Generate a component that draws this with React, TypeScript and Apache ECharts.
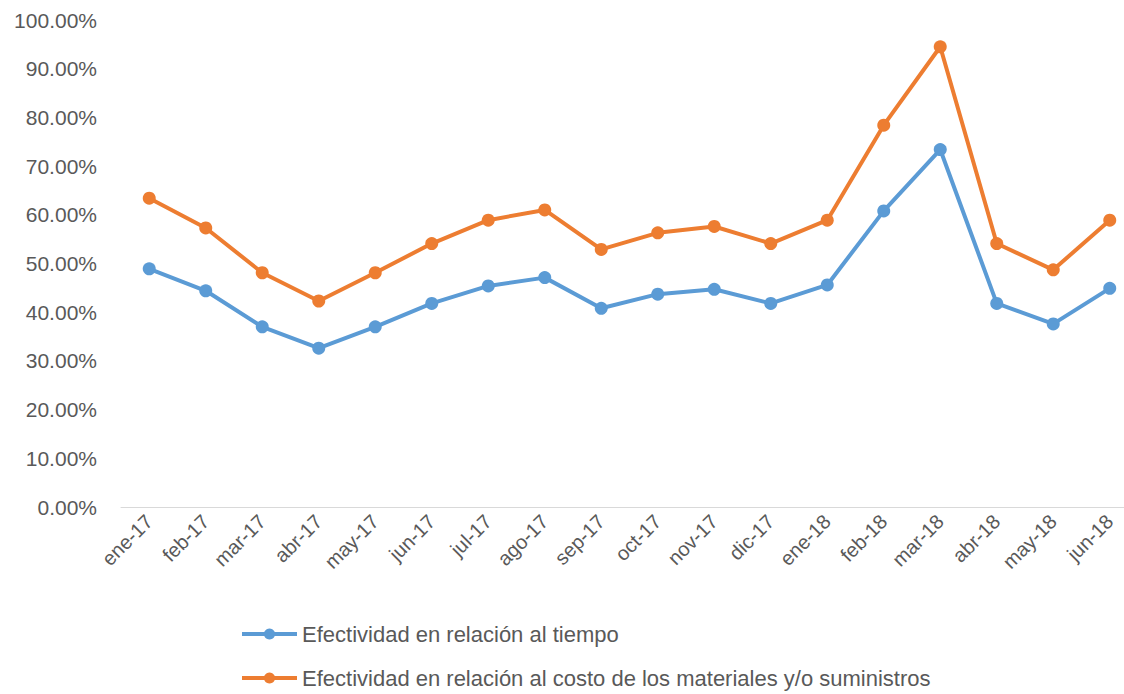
import React, { useEffect, useRef } from "react";
import * as echarts from "echarts";

const categories = ["ene-17","feb-17","mar-17","abr-17","may-17","jun-17","jul-17","ago-17","sep-17","oct-17","nov-17","dic-17","ene-18","feb-18","mar-18","abr-18","may-18","jun-18"];
const tiempo = [48.9,44.4,37.0,32.6,37.0,41.8,45.4,47.1,40.8,43.7,44.7,41.8,45.6,60.8,73.4,41.8,37.6,44.9];
const costo = [63.4,57.3,48.1,42.3,48.1,54.1,58.9,61.0,52.9,56.3,57.6,54.1,58.9,78.4,94.5,54.1,48.7,58.9];
const seriesNames = ["Efectividad en relación al tiempo","Efectividad en relación al costo de los materiales y/o suministros"];

export default function App() {
  const ref = useRef<HTMLDivElement>(null);
  useEffect(() => {
    if (!ref.current) return;
    const chart = echarts.init(ref.current, undefined, { renderer: "svg" });
    const font = "Liberation Sans";
    const legendBase = {
      orient: "horizontal",
      left: 240,
      padding: 0,
      itemWidth: 55,
      itemHeight: 14,
      lineStyle: { width: 4 },
      textStyle: { color: "#595959", fontSize: 22, fontFamily: font },
    };
    chart.setOption({
      animation: false,
      backgroundColor: "#ffffff",
      grid: { left: 121, right: 2, top: 20, bottom: 187, containLabel: false },
      legend: [
        { ...legendBase, top: 623, data: [seriesNames[0]] },
        { ...legendBase, top: 667, data: [seriesNames[1]] },
      ],
      xAxis: {
        type: "category",
        data: categories,
        boundaryGap: true,
        axisLine: { lineStyle: { color: "#d9d9d9", width: 1 } },
        axisTick: { show: false },
        axisLabel: { rotate: 45, color: "#595959", fontSize: 20, fontFamily: font, margin: 11 },
      },
      yAxis: {
        type: "value",
        min: 0,
        max: 100,
        interval: 10,
        splitLine: { show: false },
        axisLine: { show: false },
        axisTick: { show: false },
        axisLabel: {
          color: "#595959",
          fontSize: 21,
          fontFamily: font,
          margin: 24,
          formatter: (v: number) => v.toFixed(2) + "%",
        },
      },
      series: [
        {
          name: seriesNames[0],
          type: "line",
          data: tiempo,
          symbol: "circle",
          symbolSize: 13,
          lineStyle: { width: 4, color: "#5B9BD5" },
          itemStyle: { color: "#5B9BD5" },
        },
        {
          name: seriesNames[1],
          type: "line",
          data: costo,
          symbol: "circle",
          symbolSize: 13,
          lineStyle: { width: 4, color: "#ED7D31" },
          itemStyle: { color: "#ED7D31" },
        },
      ],
    });
    return () => chart.dispose();
  }, []);
  return (
    <div style={{ position: "fixed", left: 0, top: 0, width: 1124, height: 694, overflow: "hidden", background: "#fff" }}>
      <div ref={ref} style={{ position: "absolute", left: 0, top: 0, width: 1140, height: 694 }} />
    </div>
  );
}
